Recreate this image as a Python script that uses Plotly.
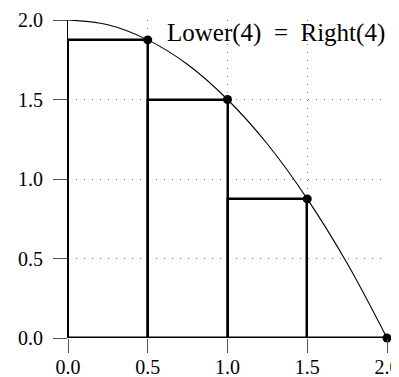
import plotly.graph_objects as go

# curve
curve_x = [0.0, 0.25, 0.5, 0.75, 1.0, 1.25, 1.5, 1.75, 2.0]
curve_y = [2.0, 1.97, 1.875, 1.72, 1.5, 1.22, 0.875, 0.47, 0.0]

# right-endpoint rectangles
rect_left = [0.0, 0.5, 1.0, 1.5]
rect_right = [0.5, 1.0, 1.5, 2.0]
rect_height = [1.875, 1.5, 0.875, 0.0]

tick_vals = [0.0, 0.5, 1.0, 1.5, 2.0]
tick_text = ["0.0", "0.5", "1.0", "1.5", "2.0"]
label = "Lower(4)\u2002=\u2002Right(4)"

FONT = "Liberation Serif"

fig = go.Figure()

# rectangles as bars
fig.add_trace(go.Bar(
    x=[(a + b) / 2 for a, b in zip(rect_left, rect_right)],
    y=rect_height,
    width=[b - a for a, b in zip(rect_left, rect_right)],
    marker=dict(color="rgba(0,0,0,0)", line=dict(color="black", width=2.5)),
    showlegend=False, hoverinfo="skip", cliponaxis=False,
))

fig.add_trace(go.Scatter(
    x=curve_x, y=curve_y, mode="lines",
    line=dict(color="black", width=1.1, shape="spline"),
    showlegend=False, hoverinfo="skip",
))

fig.add_trace(go.Scatter(
    x=rect_right, y=rect_height, mode="markers",
    marker=dict(color="black", size=9),
    cliponaxis=False, showlegend=False, hoverinfo="skip",
))

fig.add_annotation(
    x=0.605, y=1.92, xref="x", yref="y", text=label, showarrow=False,
    xanchor="left", yanchor="middle",
    font=dict(family=FONT, size=25, color="black"),
)

axis_common = dict(
    range=[0, 2], tickvals=tick_vals, ticktext=tick_text,
    showgrid=True, gridcolor="#777", griddash="1px,7px", gridwidth=1,
    ticks="outside", ticklen=14, tickcolor="#555", tickwidth=1.2,
    tickfont=dict(family=FONT, size=20, color="black"),
    zeroline=False, fixedrange=True, automargin=False,
    ticklabeloverflow="allow",
)

# page body has an 8px margin, so the figure is offset by 8px
fig.update_layout(
    width=391, height=369,
    margin=dict(l=60, r=12, t=12, b=39),
    plot_bgcolor="white", paper_bgcolor="white",
    xaxis=dict(**axis_common, showline=False, ticklabelstandoff=-3),
    yaxis=dict(**axis_common, showline=True, linecolor="black", linewidth=1,
               ticklabelstandoff=6),
    bargap=0,
)

fig.write_html("out.html")
